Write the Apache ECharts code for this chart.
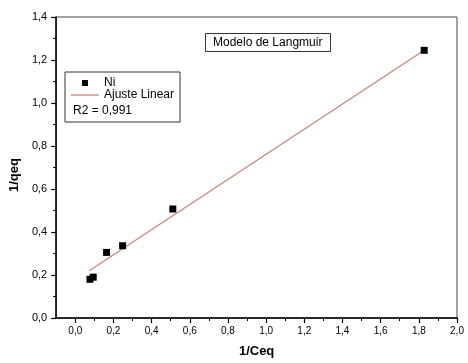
<!DOCTYPE html>
<html>
<head>
<meta charset="utf-8">
<script src="https://cdn.jsdelivr.net/npm/echarts@6/dist/echarts.min.js"></script>
<style>
  html, body { margin: 0; padding: 0; background: #fff; }
  #chart { width: 468px; height: 363px; }
</style>
</head>
<body>
<div id="chart"></div>
<script>
// Langmuir linearisation: 1/qeq against 1/Ceq for Ni
const niX = [0.077, 0.094, 0.164, 0.248, 0.511, 1.828];
const niY = [0.180, 0.190, 0.305, 0.336, 0.507, 1.245];

// Linear fit end points
const fitX = [0.073, 1.828];
const fitY = [0.220, 1.245];

const fitLabel = 'R2 = 0,991';

// Axis ticks
const xTicks = [0.0, 0.2, 0.4, 0.6, 0.8, 1.0, 1.2, 1.4, 1.6, 1.8, 2.0];
const xMinorTicks = [0.1, 0.3, 0.5, 0.7, 0.9, 1.1, 1.3, 1.5, 1.7, 1.9];
const yTicks = [0.0, 0.2, 0.4, 0.6, 0.8, 1.0, 1.2, 1.4];
const yMinorTicks = [0.1, 0.3, 0.5, 0.7, 0.9, 1.1, 1.3];

const fmt = v => Number(v).toFixed(1).replace('.', ',');
const font = 'Liberation Sans, Arial, sans-serif';
const ink = '#000';
const fitColor = '#c98676';

const chart = echarts.init(document.getElementById('chart'), null, { renderer: 'canvas' });

const axisBase = {
  type: 'value',
  splitLine: { show: false },
  axisLine: { show: true, onZero: false, lineStyle: { color: ink, width: 1.5 } },
};

chart.setOption({
  backgroundColor: '#fff',
  animation: false,
  textStyle: { fontFamily: font },
  title: {
    text: 'Modelo de Langmuir',
    left: 205, top: 33,
    padding: [3, 8, 3, 8],
    borderColor: '#333', borderWidth: 1,
    textStyle: { fontSize: 12, fontWeight: 'normal', color: ink, lineHeight: 13, fontFamily: font }
  },
  legend: {
    orient: 'vertical',
    left: 65, top: 72,
    padding: [5, 6, 21, 6],
    itemGap: 0,
    itemWidth: 28, itemHeight: 6,
    borderColor: '#333', borderWidth: 1,
    textStyle: { fontSize: 12, color: ink, lineHeight: 11.5, fontFamily: font },
    data: [
      { name: 'Ni', icon: 'path://M0,0L1,0L1,1L0,1Z' },
      { name: 'Ajuste Linear', icon: 'path://M0,0H28V1.3H0Z' }
    ]
  },
  graphic: [{
    type: 'text', left: 73, top: 105,
    style: { text: fitLabel, fontSize: 12, fill: ink, fontFamily: font }
  }],
  grid: {
    left: 56, right: 11, top: 17, bottom: 45,
    show: true, borderColor: '#444', borderWidth: 1
  },
  xAxis: [
    Object.assign({}, axisBase, {
      min: -0.1, max: 2.0, position: 'bottom',
      name: '1/Ceq', nameLocation: 'middle', nameGap: 27,
      nameTextStyle: { fontSize: 13, fontWeight: 'bold', color: ink, fontFamily: font },
      axisTick: { show: true, inside: false, length: 5, customValues: xTicks, lineStyle: { color: ink, width: 1.2 } },
      axisLabel: { customValues: xTicks, formatter: fmt, fontSize: 10, color: ink, margin: 8 }
    }),
    {
      type: 'value', min: -0.1, max: 2.0, position: 'bottom', offset: 0,
      splitLine: { show: false },
      axisLine: { show: false, onZero: false },
      axisTick: { show: true, length: 3, customValues: xMinorTicks, lineStyle: { color: ink, width: 1 } },
      axisLabel: { show: false }
    }
  ],
  yAxis: [
    Object.assign({}, axisBase, {
      min: 0, max: 1.4, position: 'left',
      name: '1/qeq', nameLocation: 'middle', nameGap: 33,
      nameTextStyle: { fontSize: 13, fontWeight: 'bold', color: ink, fontFamily: font, padding: [0, 15, 0, 0] },
      axisTick: { show: true, inside: false, length: 5, customValues: yTicks, lineStyle: { color: ink, width: 1.2 } },
      axisLabel: { customValues: yTicks, formatter: fmt, fontSize: 11, color: ink, margin: 9 }
    }),
    {
      type: 'value', min: 0, max: 1.4, position: 'left', offset: 0,
      splitLine: { show: false },
      axisLine: { show: false, onZero: false },
      axisTick: { show: true, length: 3, customValues: yMinorTicks, lineStyle: { color: ink, width: 1 } },
      axisLabel: { show: false }
    }
  ],
  series: [
    {
      name: 'Ajuste Linear',
      type: 'line',
      xAxisIndex: 0, yAxisIndex: 0,
      symbol: 'none',
      lineStyle: { color: fitColor, width: 1.3 },
      itemStyle: { color: fitColor },
      data: fitX.map((x, i) => [x, fitY[i]]),
      z: 2
    },
    {
      name: 'Ni',
      type: 'scatter',
      xAxisIndex: 0, yAxisIndex: 0,
      symbol: 'rect',
      symbolSize: 7,
      itemStyle: { color: '#000', opacity: 1 },
      data: niX.map((x, i) => [x, niY[i]]),
      z: 3
    }
  ]
});
</script>
</body>
</html>
